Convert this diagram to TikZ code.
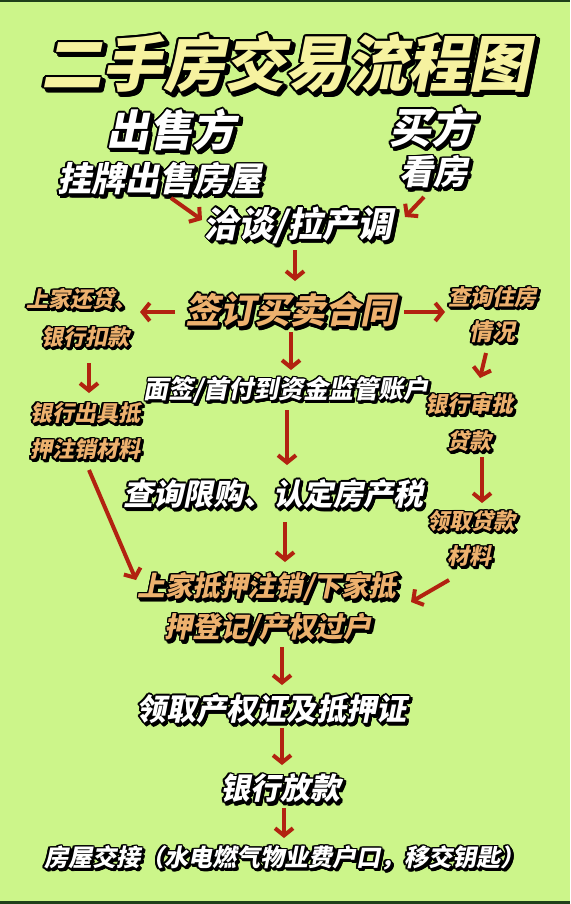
\documentclass[tikz,border=0pt]{standalone}
\usepackage{fontspec}
\newfontfamily\cjk[FakeSlant=0.2]{Noto Sans CJK SC}
\usetikzlibrary{arrows.meta}
\definecolor{bg}{HTML}{CCF58A}
\definecolor{edgegreen}{HTML}{1F3F1A}
\definecolor{arrowred}{HTML}{B22210}
\definecolor{orangefill}{HTML}{EDB16E}
\definecolor{titlefill}{HTML}{F6F2A0}
\tikzset{
  lbl/.style={inner sep=0pt, outer sep=0pt, anchor=center},
  arr/.style={draw=arrowred, line width=2pt, line cap=butt,
    -{Straight Barb[length=3.6pt,width=9pt]}},
}
% #1 name, #2 x,y, #3 fill colour, #4 size (pt), #5 outline (pt), #6 text
\newcommand\lab[6]{%
  \foreach \ang in {0,30,...,330}{%
    \node[lbl,text=black,font=\cjk\bfseries\fontsize{#4}{#4}\selectfont,
      xshift={1.7*#5pt},yshift={-1.7*#5pt},shift={(\ang:#5pt)}] at (#2) {#6};
    \node[lbl,text=black,font=\cjk\bfseries\fontsize{#4}{#4}\selectfont,
      shift={(\ang:#5pt)}] at (#2) {#6};}
  \node[lbl,text=#3,font=\cjk\bfseries\fontsize{#4}{#4}\selectfont] (#1) at (#2) {#6};
}
\begin{document}
\begin{tikzpicture}[x=0.5pt,y=-0.5pt]
\fill[bg] (0,0) rectangle (570,904);
\fill[edgegreen] (0,0) rectangle (570,2);
\fill[edgegreen] (0,901) rectangle (570,904);
\useasboundingbox (0,0) rectangle (570,904);

\lab{title}{285,63}{titlefill}{30.5}{1.0}{二手房交易流程图}
\lab{seller}{171,130}{white}{21.5}{0.8}{出售方}
\lab{list}{159,179}{white}{17}{0.75}{挂牌出售房屋}
\lab{buyer}{431,127}{white}{21}{0.8}{买方}
\lab{view}{433,172}{white}{17}{0.75}{看房}
\lab{nego}{298,225}{white}{17.5}{0.75}{洽谈/拉产调}
\lab{sign}{290,310}{orangefill}{17.5}{0.75}{签订买卖合同}
\lab{repay1}{81,299}{orangefill}{11}{0.6}{上家还贷、}
\lab{repay2}{85,337}{orangefill}{11}{0.6}{银行扣款}
\lab{check1}{492,297}{orangefill}{11}{0.6}{查询住房}
\lab{check2}{492,332}{orangefill}{11.5}{0.6}{情况}
\lab{face}{286,390}{white}{12.5}{0.6}{面签/首付到资金监管账户}
\lab{cancel1}{85,413}{orangefill}{11}{0.6}{银行出具抵}
\lab{cancel2}{85,449}{orangefill}{11}{0.6}{押注销材料}
\lab{approve1}{469,404}{orangefill}{11}{0.6}{银行审批}
\lab{approve2}{469,441}{orangefill}{11}{0.6}{贷款}
\lab{tax}{273,494}{white}{15}{0.7}{查询限购、认定房产税}
\lab{loan1}{471,521}{orangefill}{11}{0.6}{领取贷款}
\lab{loan2}{469,556}{orangefill}{11}{0.6}{材料}
\lab{reg1}{267,587}{orangefill}{13.8}{0.7}{上家抵押注销/下家抵}
\lab{reg2}{268,628}{orangefill}{14}{0.7}{押登记/产权过户}
\lab{cert}{271,709}{white}{15}{0.7}{领取产权证及抵押证}
\lab{pay}{280,788}{white}{15}{0.7}{银行放款}
\lab{hand}{284,858}{white}{12}{0.6}{房屋交接（水电燃气物业费户口，移交钥匙）}

% arrow end points
\coordinate (a1s) at (171,198); \coordinate (a1e) at (202,220);
\coordinate (a2s) at (424,197); \coordinate (a2e) at (405,217);
\coordinate (a3s) at (295,250); \coordinate (a3e) at (295,281);
\coordinate (a4s) at (175,312); \coordinate (a4e) at (140,312);
\coordinate (a5s) at (404,312); \coordinate (a5e) at (445,312);
\coordinate (a6s) at (291,332); \coordinate (a6e) at (291,370);
\coordinate (a7s) at (89,363);  \coordinate (a7e) at (89,393);
\coordinate (a8s) at (486,353); \coordinate (a8e) at (480,378);
\coordinate (a9s) at (287,410); \coordinate (a9e) at (287,465);
\coordinate (a10s) at (482,457); \coordinate (a10e) at (482,503);
\coordinate (a11s) at (89,470); \coordinate (a11e) at (136,580);
\coordinate (a12s) at (285,522); \coordinate (a12e) at (285,562);
\coordinate (a13s) at (449,580); \coordinate (a13e) at (411,602);
\coordinate (a14s) at (282,647); \coordinate (a14e) at (282,685);
\coordinate (a15s) at (282,728); \coordinate (a15e) at (282,765);
\coordinate (a16s) at (284,808); \coordinate (a16e) at (284,838);

\foreach \i in {1,...,16}{\draw[arr] (a\i s) -- (a\i e);}
\end{tikzpicture}
\end{document}
